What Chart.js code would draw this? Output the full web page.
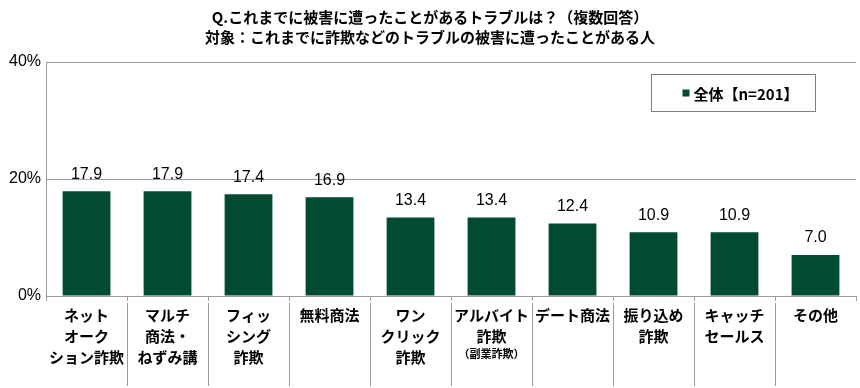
<!DOCTYPE html>
<html lang="ja">
<head>
    <meta charset="UTF-8">
    <title>被害に遭ったことがあるトラブル</title>
    <script src="https://cdn.jsdelivr.net/npm/chart.js"></script>
    <style>
        html, body { margin: 0; padding: 0; background: #fff; }
        #wrap { width: 860px; height: 388px; }
    </style>
</head>
<body>
    <div id="wrap"><canvas id="troubleChart"></canvas></div>

    <script>
        // data
        const categories = [
            ["ネット", "オーク", "ション詐欺"],
            ["マルチ", "商法・", "ねずみ講"],
            ["フィッ", "シング", "詐欺"],
            ["無料商法"],
            ["ワン", "クリック", "詐欺"],
            ["アルバイト", "詐欺"],
            ["デート商法"],
            ["振り込め", "詐欺"],
            ["キャッチ", "セールス"],
            ["その他"]
        ];
        const notes = ["", "", "", "", "", "（副業詐欺）", "", "", "", ""];
        const values = [17.9, 17.9, 17.4, 16.9, 13.4, 13.4, 12.4, 10.9, 10.9, 7.0];
        const seriesName = "全体【n=201】";
        const yTicks = [0, 20, 40];
        const titleLines = [
            "Q.これまでに被害に遭ったことがあるトラブルは？（複数回答）",
            "対象：これまでに詐欺などのトラブルの被害に遭ったことがある人"
        ];

        const JP = "'Noto Sans CJK JP', 'Noto Sans', sans-serif";
        const NUM = "'Liberation Sans', Arial, sans-serif";
        const GREEN = "#004b32";
        const LINE = "#9a9a9a";

        // separators, category labels, value labels and the boxed legend
        const decorations = {
            id: "decorations",
            afterDatasetsDraw(chart) {
                const ctx = chart.ctx;
                const area = chart.chartArea;
                const x = chart.scales.x;
                const step = (area.right - area.left) / categories.length;
                ctx.save();

                // vertical separators under the axis
                ctx.strokeStyle = LINE;
                ctx.lineWidth = 1;
                for (let k = 1; k < categories.length; k++) {
                    const px = Math.round(area.left + k * step) + 0.5;
                    ctx.beginPath();
                    ctx.moveTo(px, area.bottom + 7);
                    ctx.lineTo(px, 386);
                    ctx.stroke();
                }

                // category labels
                ctx.fillStyle = "#000";
                ctx.textAlign = "center";
                ctx.textBaseline = "middle";
                categories.forEach((lines, i) => {
                    const cx = x.getPixelForValue(i);
                    ctx.font = "bold 15px " + JP;
                    lines.forEach((t, j) => ctx.fillText(t, cx, area.bottom + 19 + j * 21));
                    if (notes[i]) {
                        ctx.font = "bold 11px " + JP;
                        ctx.fillText(notes[i], cx, area.bottom + 19 + lines.length * 21 - 3);
                    }
                });

                // value labels
                const meta = chart.getDatasetMeta(0);
                ctx.font = "16px " + NUM;
                meta.data.forEach((bar, i) => {
                    ctx.fillText(values[i].toFixed(1), bar.x, bar.y - 17);
                });

                // legend box
                const ds = chart.data.datasets[0];
                const bx = area.right - 204.5, by = 74.5, bw = 164, bh = 37;
                ctx.fillStyle = "#fff";
                ctx.fillRect(bx, by, bw, bh);
                ctx.strokeStyle = "#808080";
                ctx.strokeRect(bx, by, bw, bh);
                ctx.fillStyle = ds.backgroundColor;
                ctx.fillRect(bx + 31, by + bh / 2 - 3.5, 7, 7);
                ctx.fillStyle = "#000";
                ctx.textAlign = "left";
                ctx.font = "bold 15px " + JP;
                ctx.fillText(ds.label, bx + 42, by + bh / 2 + 1);

                ctx.restore();
            }
        };

        new Chart(document.getElementById("troubleChart").getContext("2d"), {
            type: "bar",
            data: {
                labels: categories,
                datasets: [{
                    label: seriesName,
                    data: values,
                    backgroundColor: GREEN,
                    borderWidth: 0,
                    barPercentage: 0.59,
                    categoryPercentage: 1.0
                }]
            },
            options: {
                responsive: true,
                maintainAspectRatio: false,
                animation: false,
                layout: { padding: { left: 4, right: 4, top: 0, bottom: 87 } },
                plugins: {
                    legend: { display: false },
                    tooltip: { enabled: false },
                    title: {
                        display: true,
                        text: titleLines,
                        color: "#000",
                        font: { family: JP, size: 15, weight: "bold", lineHeight: "20px" },
                        padding: { top: 7.5, bottom: 14.5 }
                    }
                },
                scales: {
                    x: {
                        ticks: { display: false },
                        grid: {
                            offset: true,
                            drawOnChartArea: false,
                            drawTicks: true,
                            tickLength: 5,
                            color: LINE
                        },
                        border: { color: LINE }
                    },
                    y: {
                        min: yTicks[0],
                        max: yTicks[yTicks.length - 1],
                        afterBuildTicks: axis => { axis.ticks = yTicks.map(v => ({ value: v })); },
                        ticks: {
                            callback: v => v + "%",
                            color: "#000",
                            padding: 5,
                            font: { family: NUM, size: 16 }
                        },
                        grid: { color: LINE, drawTicks: false },
                        border: { color: LINE }
                    }
                }
            },
            plugins: [decorations]
        });
    </script>
</body>
</html>
